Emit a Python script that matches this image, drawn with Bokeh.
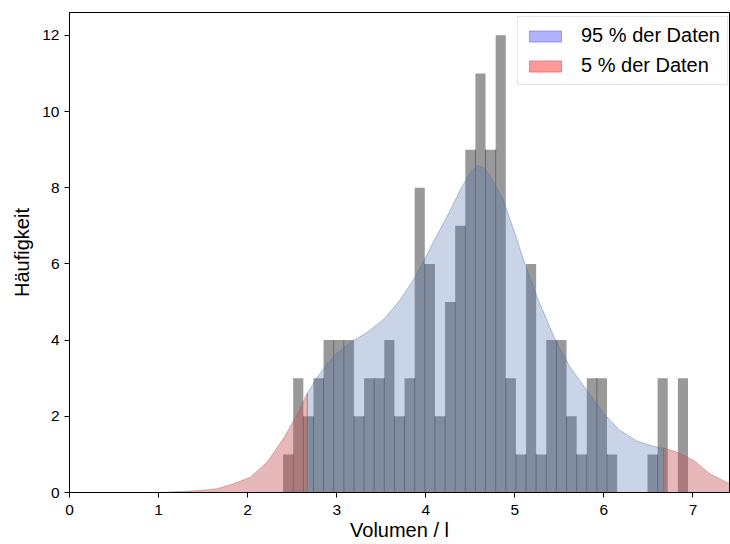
import numpy as np
from bokeh.plotting import figure
from bokeh.models import Range1d, FixedTicker, Legend, LegendItem, ColumnDataSource
from bokeh.embed import file_html
from bokeh.resources import INLINE

# histogram (40 bins between data min and max)
hist_min = 2.398
hist_max = 6.944
counts = [1, 3, 2, 3, 4, 4, 4, 2, 3, 3, 4, 2, 3, 8, 6, 2, 5, 7, 9, 11,
          9, 12, 3, 1, 6, 1, 4, 4, 2, 1, 3, 3, 1, 0, 0, 0, 1, 3, 0, 3]

# KDE curve (scaled to counts)
kde_x = [1.0, 1.1, 1.3, 1.5, 1.66, 1.84, 2.03, 2.22, 2.41, 2.56, 2.67,
         2.78, 2.9, 3.0, 3.15, 3.34, 3.53, 3.71, 3.88, 4.0, 4.09, 4.24, 4.40,
         4.50, 4.58, 4.65, 4.72, 4.87, 4.99, 5.10, 5.25, 5.44, 5.62, 5.81,
         6.00, 6.18, 6.37, 6.56, 6.67, 6.82, 7.01, 7.19, 7.41, 7.6]
kde_y = [0.0, 0.01, 0.03, 0.06, 0.10, 0.23, 0.40, 0.80, 1.45, 2.07, 2.60,
         3.02, 3.40, 3.65, 3.93, 4.20, 4.55, 5.05, 5.65, 6.18, 6.60, 7.25, 8.0,
         8.40, 8.59, 8.52, 8.32, 7.67, 6.88, 6.09, 5.13, 4.08, 3.29, 2.68,
         2.07, 1.63, 1.35, 1.21, 1.17, 1.06, 0.84, 0.49, 0.23, 0.08]
q_low = 2.67
q_high = 6.67

x_ticks = [0, 1, 2, 3, 4, 5, 6, 7]
y_ticks = [0, 2, 4, 6, 8, 10, 12]
legend_labels = ["95 % der Daten", "5 % der Daten"]

FONT = "Liberation Sans"

p = figure(width=730, height=544, output_backend="svg", toolbar_location=None,
           x_range=Range1d(0, 7.41), y_range=Range1d(0, 12.6),
           min_border_left=69, min_border_right=1, min_border_top=12,
           min_border_bottom=52)
p.grid.visible = False
p.outline_line_color = "black"
p.outline_line_width = 1
p.outline_line_alpha = 1

edges = np.linspace(hist_min, hist_max, len(counts) + 1)
src = ColumnDataSource(dict(left=edges[:-1], right=edges[1:],
                            top=counts, bottom=[0] * len(counts)))
p.quad(left="left", right="right", top="top", bottom="bottom", source=src,
       fill_color="#999999", line_color=None)

# separators between neighbouring bars
sx, sy1 = [], []
for i in range(len(counts) - 1):
    h = min(counts[i], counts[i + 1])
    if h > 0:
        sx.append(edges[i + 1])
        sy1.append(h)
p.segment(x0=sx, y0=[0] * len(sx), x1=sx, y1=sy1, line_color="#666666",
          line_width=1)

kx = np.array(kde_x)
ky = np.array(kde_y)

def region(mask):
    xs = list(kx[mask])
    ys = list(ky[mask])
    return [xs[0]] + xs + [xs[-1]], [0] + ys + [0]

lo_mask = kx <= q_low
mid_mask = (kx >= q_low) & (kx <= q_high)
hi_mask = kx >= q_high

for mask, col, fa in [(lo_mask, "#c44e52", 0.4), (hi_mask, "#c44e52", 0.4),
                      (mid_mask, "#4c72b0", 0.3)]:
    xs, ys = region(mask)
    p.patch(xs, ys, fill_color=col, fill_alpha=fa, line_color=col,
            line_alpha=0.4, line_width=1)

r_blue = p.quad(left=[-5], right=[-4], top=[-5], bottom=[-4], fill_color="blue",
                fill_alpha=0.3, line_color="blue", line_alpha=0.3)
r_red = p.quad(left=[-5], right=[-4], top=[-5], bottom=[-4], fill_color="red",
               fill_alpha=0.4, line_color="red", line_alpha=0.4)
legend = Legend(items=[LegendItem(label=legend_labels[0], renderers=[r_blue]),
                       LegendItem(label=legend_labels[1], renderers=[r_red])],
                location=(448, 407))
legend.label_text_font = FONT
legend.label_text_font_size = "20px"
legend.label_text_color = "black"
legend.glyph_width = 40
legend.glyph_height = 14
legend.label_height = 20
legend.label_standoff = 16
legend.spacing = 7
legend.padding = 7
legend.margin = 0
legend.border_line_color = "#cccccc"
legend.border_line_width = 1
legend.background_fill_alpha = 0.8
p.add_layout(legend)

for ax in [p.xaxis[0], p.yaxis[0]]:
    ax.axis_line_color = "black"
    ax.major_tick_line_color = "black"
    ax.major_tick_out = 5
    ax.major_tick_in = 0
    ax.minor_tick_line_color = None
    ax.major_label_text_font = FONT
    ax.major_label_text_font_size = "15.5px"
    ax.major_label_text_color = "black"
    ax.axis_label_text_font = FONT
    ax.axis_label_text_font_size = "20px"
    ax.axis_label_text_font_style = "normal"
    ax.axis_label_text_color = "black"

p.xaxis[0].ticker = FixedTicker(ticks=x_ticks)
p.yaxis[0].ticker = FixedTicker(ticks=y_ticks)
p.xaxis[0].axis_label = "Volumen / l"
p.yaxis[0].axis_label = "Häufigkeit"
p.xaxis[0].major_label_standoff = 7
p.xaxis[0].axis_label_standoff = 1
p.yaxis[0].major_label_standoff = 5
p.yaxis[0].axis_label_standoff = 6

open("out.html", "w").write(file_html(p, INLINE))
